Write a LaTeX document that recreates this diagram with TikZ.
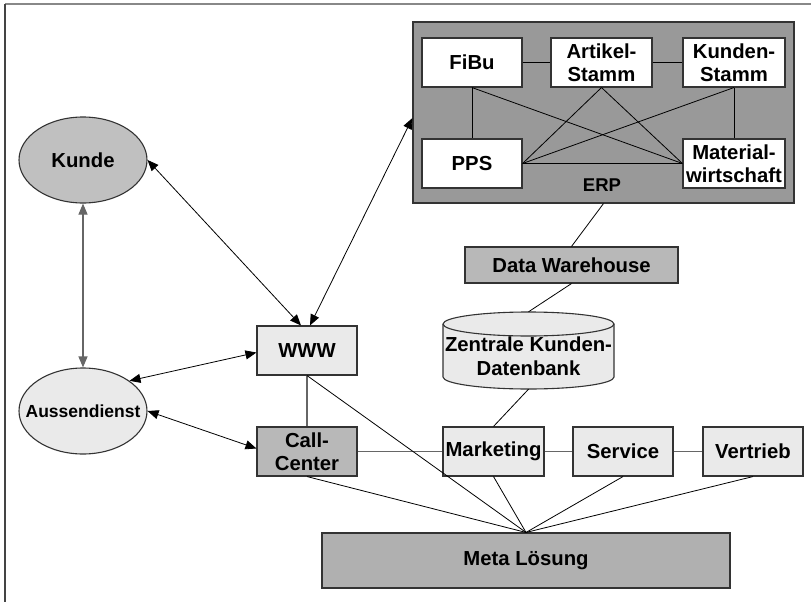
\documentclass[tikz,border=0pt]{standalone}
\usepackage{fontspec}
\setmainfont{Liberation Sans}
\usetikzlibrary{arrows.meta,shapes.geometric}
\definecolor{bord}{HTML}{333333}
\definecolor{lightfill}{HTML}{EAEAEA}
\definecolor{kundefill}{HTML}{C0C0C0}
\definecolor{erpfill}{HTML}{999999}
\definecolor{midfill}{HTML}{B8B8B8}
\definecolor{metafill}{HTML}{B0B0B0}
\definecolor{linegray}{HTML}{666666}
\definecolor{framegray}{HTML}{888888}
\definecolor{frameleft}{HTML}{444444}
\begin{document}
\begin{tikzpicture}[x=1pt,y=-1pt,
  txt/.style={font=\bfseries\fontsize{20.3}{23.5}\selectfont, align=center},
  box/.style={txt, draw=bord, line width=1.1pt, inner sep=0pt},
  lightbox/.style={box, fill=lightfill},
  whitebox/.style={box, fill=white, minimum height=49pt},
  ellnode/.style={ellipse, draw=bord, line width=1.1pt, inner sep=0pt, minimum width=128pt, minimum height=86pt},
  conn/.style={line width=0.8pt, draw=black},
  gconn/.style={line width=1.3pt, draw=linegray},
  bitip/.style={{Triangle[length=11pt,width=9pt]}-{Triangle[length=11pt,width=9pt]}}
]
\useasboundingbox (0,0) rectangle (811,602);
% frame
\draw[framegray, line width=1.6pt] (5,4) -- (811,4);
\draw[frameleft, line width=1.6pt] (5,602) -- (5,4);

% ERP block
\node[box, fill=erpfill, minimum width=381pt, minimum height=181pt] (erp) at (603.5,112.5) {};
\node[txt, font=\bfseries\fontsize{18.5}{22}\selectfont] (erplabel) at (602,185) {ERP};
\node[whitebox, minimum width=100pt] (fibu) at (472,62.5) {FiBu};
\node[whitebox, minimum width=101pt] (artikel) at (601.5,62.5) {Artikel-\\Stamm};
\node[whitebox, minimum width=102pt] (kunden) at (734,62.5) {Kunden-\\Stamm};
\node[whitebox, minimum width=100pt] (pps) at (472,163.5) {PPS};
\node[whitebox, minimum width=102pt] (material) at (734,163.5) {Material-\\wirtschaft};
\draw[conn] (fibu.east) -- (artikel.west);
\draw[conn] (artikel.east) -- (kunden.west);
\draw[conn] (fibu.south) -- (pps.north);
\draw[conn] (kunden.south) -- (material.north);
\draw[conn] (fibu.south) -- (material.west);
\draw[conn] (artikel.south) -- (pps.east);
\draw[conn] (artikel.south) -- (material.west);
\draw[conn] (kunden.south) -- (pps.east);
\draw[conn] (pps.east) -- (material.west);

% Data warehouse
\node[box, fill=midfill, minimum width=213pt, minimum height=36pt] (dw) at (571.5,265) {Data Warehouse};

% cylinder
\filldraw[fill=lightfill, draw=bord, line width=1.1pt]
  (443,324) -- (443,377) arc[start angle=180, end angle=360, x radius=85.5pt, y radius=12pt]
  -- (614,324) arc[start angle=0, end angle=180, x radius=85.5pt, y radius=12pt] -- cycle;
\draw[draw=bord, line width=1.1pt] (443,324) arc[start angle=180, end angle=360, x radius=85.5pt, y radius=12pt];
\node[minimum width=171pt, minimum height=77pt, inner sep=0pt] (db) at (528.5,350.5) {};
\node[txt] (dbtext) at (528.5,356) {Zentrale Kunden-\\Datenbank};

% left side
\node[ellnode, fill=kundefill, label={[txt]center:Kunde}] (kunde) at (83,160) {};
\node[ellnode, fill=lightfill, label={[txt, font=\bfseries\fontsize{17.5}{20}\selectfont]center:Aussendienst}] (auss) at (83,411) {};

% middle row
\node[lightbox, minimum width=100pt, minimum height=49pt] (www) at (307,350.5) {WWW};
\node[box, fill=midfill, minimum width=100pt, minimum height=49pt] (cc) at (307,451.5) {Call-\\Center};
\node[lightbox, minimum width=101pt, minimum height=49pt] (mkt) at (493.5,451.5) {Marketing};
\node[lightbox, minimum width=100pt, minimum height=49pt] (svc) at (623,451.5) {Service};
\node[lightbox, minimum width=100pt, minimum height=49pt] (vtr) at (753,451.5) {Vertrieb};

% Meta
\node[box, fill=metafill, minimum width=408pt, minimum height=55pt] (meta) at (526,560.5) {Meta Lösung};

% connectors
\draw[conn] (erp.south) -- (dw.north);
\draw[conn] (dw.south) -- (db.north);
\draw[conn] (db.south) -- (mkt.north);

\draw[gconn] (www.south) -- (cc.north);
\draw[gconn] (cc.east) -- (mkt.west);
\draw[gconn] (mkt.east) -- (svc.west);
\draw[gconn] (svc.east) -- (vtr.west);

\draw[conn] (www.south) -- (meta.north);
\draw[conn] (cc.south) -- (meta.north);
\draw[conn] (mkt.south) -- (meta.north);
\draw[conn] (svc.south) -- (meta.north);
\draw[conn] (vtr.south) -- (meta.north);

\draw[conn, bitip] (kunde.east) -- ([xshift=-6pt]www.north);
\draw[conn, bitip] ([yshift=-5.5pt]erp.west) -- ([xshift=3pt]www.north);
\draw[gconn, line width=1.1pt, bitip] (kunde.south) -- (auss.north);
\draw[conn, bitip] (auss.33) -- ([yshift=-2pt]www.west);
\draw[conn, bitip] (auss.east) -- ([yshift=3pt]cc.west);
\end{tikzpicture}
\end{document}
